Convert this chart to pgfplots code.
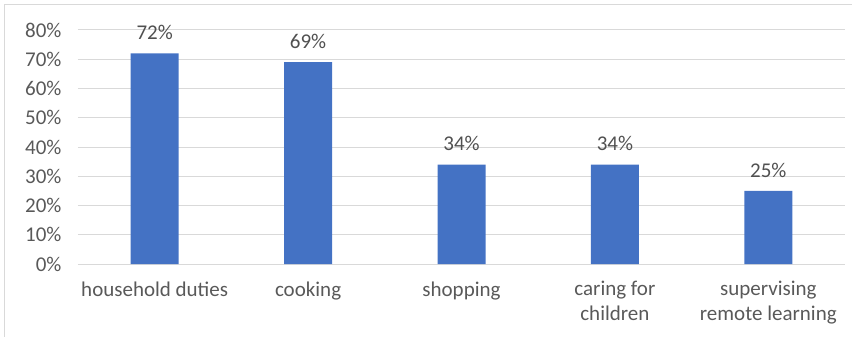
\documentclass[border=0pt]{standalone}
\usepackage{pgfplots}
\pgfplotsset{compat=1.18}
\usepackage{fontspec}
\setmainfont{Carlito}
\definecolor{barblue}{HTML}{4472C4}
\definecolor{gridgray}{HTML}{D9D9D9}
\definecolor{txtgray}{HTML}{595959}
\definecolor{lblgray}{HTML}{505050}
\begin{document}
\begin{tikzpicture}
\path[use as bounding box] (-78bp,-73bp) rectangle (774bp,264bp);
\draw[gridgray, line width=1bp] (-73bp,-80bp) |- (790bp,259bp);
\begin{axis}[
  at={(0,0)}, anchor=south west,
  scale only axis, width=767bp, height=234bp,
  xmin=-0.5, xmax=4.5, ymin=0, ymax=80,
  axis line style={draw=none},
  ytick={0,10,...,80},
  yticklabel={\pgfmathprintnumber{\tick}\%},
  yticklabel style={font=\fontsize{21bp}{25bp}\selectfont, text=txtgray, xshift=-13bp},
  xtick=data,
  xticklabels={household duties, cooking, shopping, caring for\\children, supervising\\remote learning},
  xticklabel style={font=\fontsize{21bp}{25bp}\selectfont, text=txtgray, align=center, anchor=north, yshift=-14bp},
  major tick length=0,
  ymajorgrids, grid style={gridgray, line width=1bp},
  /pgf/number format/assume math mode=true,
  ybar, bar width=48bp,
  nodes near coords={\pgfmathprintnumber{\pgfplotspointmeta}\%},
  nodes near coords style={font=\fontsize{21bp}{25bp}\selectfont, text=lblgray, yshift=10bp},
  clip=false,
]
\addplot[fill=barblue, draw=none] coordinates {(0,72) (1,69) (2,34) (3,34) (4,25)};
\end{axis}
\end{tikzpicture}
\end{document}
